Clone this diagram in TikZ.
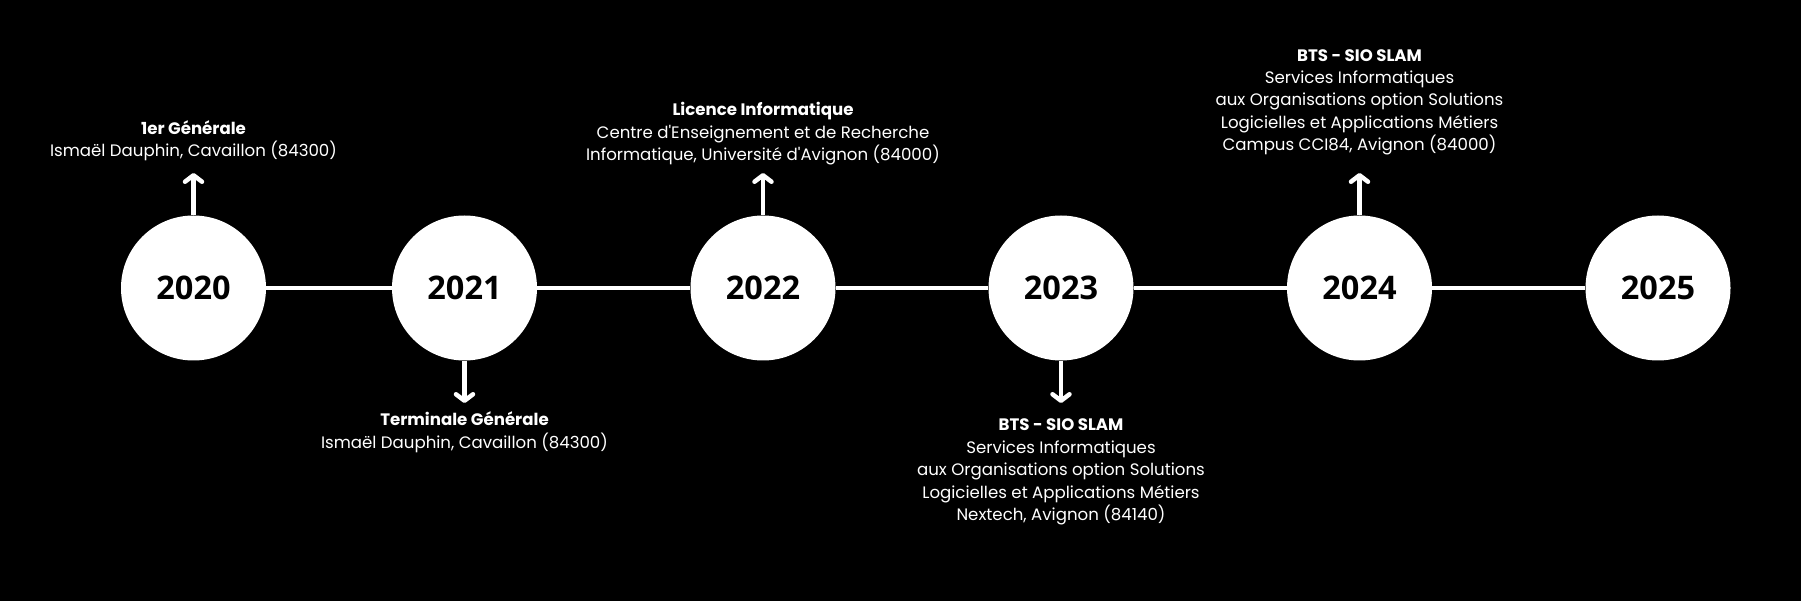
\documentclass[tikz,border=0pt]{standalone}
\usepackage{fontspec}
\setmainfont{Poppins}
% plain family: keeps straight apostrophes
\newfontfamily\bodyfont{Poppins}
\newfontfamily\yearfont{Open Sans}
\usetikzlibrary{arrows.meta}

\begin{document}
\begin{tikzpicture}[x=1pt,y=-1pt,
  year/.style={circle, fill=white, draw=none, inner sep=0pt, minimum size=145pt,
    text=black, font=\yearfont\bfseries\fontsize{32.5}{36}\selectfont},
  link/.style={draw=white, line width=4.8pt},
  pointer/.style={draw=white, line width=4.5pt,
    -{Straight Barb[length=6.5pt,width=17pt,line cap=round,line join=round]}},
  label/.style={anchor=north, inner sep=0pt, align=center, text=white,
    font=\bodyfont\fontsize{16.6}{22.4}\selectfont},
]
% page and background
\fill[black] (0,0) rectangle (1801,601);
\useasboundingbox (0,0) rectangle (1801,601);

% year circles along the timeline
\node[year] (c2020) at (193.5,288) {2020};
\node[year] (c2021) at (464.5,288) {2021};
\node[year] (c2022) at (763,288) {2022};
\node[year] (c2023) at (1061,288) {2023};
\node[year] (c2024) at (1359.5,288) {2024};
\node[year] (c2025) at (1658,288) {2025};

% timeline segments
\draw[link] (c2020) -- (c2021);
\draw[link] (c2021) -- (c2022);
\draw[link] (c2022) -- (c2023);
\draw[link] (c2023) -- (c2024);
\draw[link] (c2024) -- (c2025);

% arrow ends
\coordinate (a2020) at (193.5,173);
\coordinate (a2021) at (464.5,403);
\coordinate (a2022) at (763,173);
\coordinate (a2023) at (1061,403);
\coordinate (a2024) at (1359.5,173);

\draw[pointer] (c2020.north) -- (a2020);
\draw[pointer] (c2021.south) -- (a2021);
\draw[pointer] (c2022.north) -- (a2022);
\draw[pointer] (c2023.south) -- (a2023);
\draw[pointer] (c2024.north) -- (a2024);

% descriptions (north = first baseline - 16pt)
\node[label] (t2020) at (193.5,118.3) {\rule{0pt}{16pt}\textbf{1er Générale}\\
  Ismaël Dauphin, Cavaillon (84300)};
\node[label] (t2021) at (464.5,409.7) {\rule{0pt}{16pt}\textbf{Terminale Générale}\\
  Ismaël Dauphin, Cavaillon (84300)};
\node[label] (t2022) at (763,99.7) {\rule{0pt}{16pt}\textbf{Licence Informatique}\\
  Centre d'Enseignement et de Recherche\\
  Informatique, Université d'Avignon (84000)};
\node[label] (t2023) at (1061,414.7) {\rule{0pt}{16pt}\textbf{BTS - SIO SLAM}\\
  Services Informatiques\\
  aux Organisations option Solutions\\
  Logicielles et Applications Métiers\\
  Nextech, Avignon (84140)};
\node[label] (t2024) at (1359.5,45) {\rule{0pt}{16pt}\textbf{BTS - SIO SLAM}\\
  Services Informatiques\\
  aux Organisations option Solutions\\
  Logicielles et Applications Métiers\\
  Campus CCI84, Avignon (84000)};
\end{tikzpicture}
\end{document}
